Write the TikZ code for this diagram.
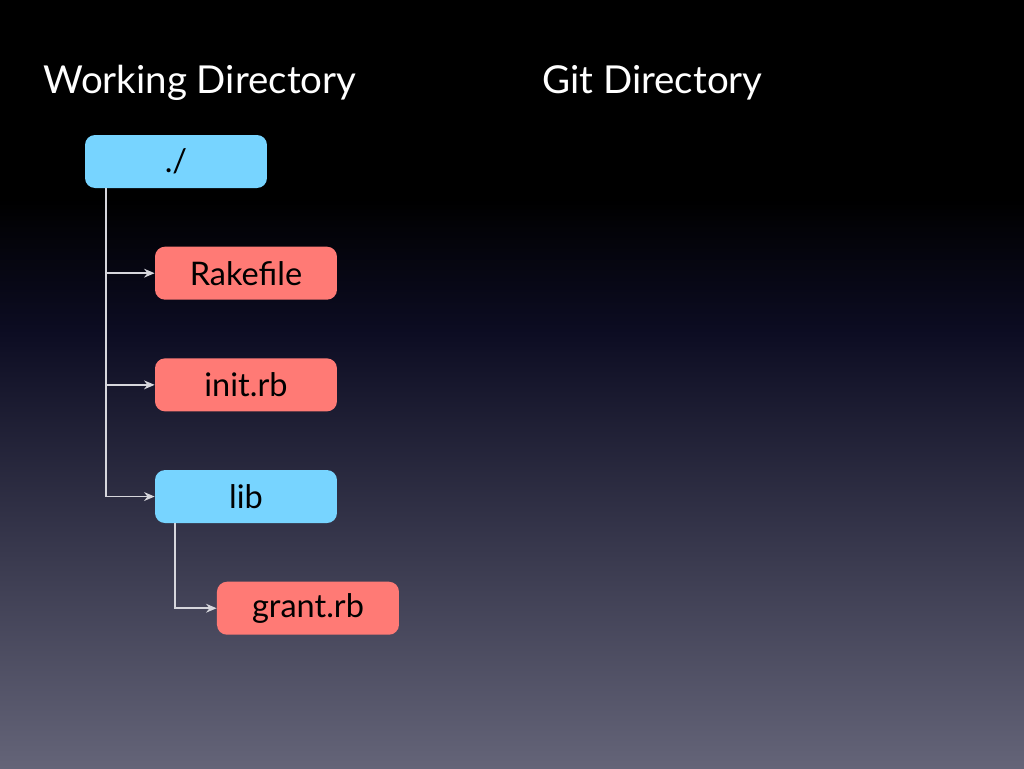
\documentclass[tikz,border=0pt]{standalone}
\usepackage{fontspec}
\setmainfont{Lato}
\usepackage{tikz}
\usetikzlibrary{arrows.meta,calc,positioning}

\definecolor{dirblue}{RGB}{119,212,255}
\definecolor{filered}{RGB}{255,122,117}
\definecolor{linegray}{RGB}{214,214,220}
\definecolor{bgmid}{RGB}{12,12,34}
\definecolor{bglow}{RGB}{100,100,120}

\begin{document}
\begin{tikzpicture}[
  x=0.02cm, y=-0.02cm,
  node distance=1.16cm and 1.16cm,
  box/.style={rounded corners=0.2cm, minimum width=3.64cm, minimum height=1.06cm,
    inner sep=0pt, text=black, font=\fontsize{18.5}{20}\selectfont},
  dirbox/.style={box, fill=dirblue},
  filebox/.style={box, fill=filered},
  title/.style={text=white, inner sep=0pt, anchor=base west, font=\fontsize{21.9}{24}\selectfont},
  arr/.style={-{Stealth[length=6pt,width=5pt]}, draw=linegray, line width=1pt}
]
% slide background
\fill[black] (0,0) rectangle (1024,200);
\shade[top color=black, bottom color=bgmid] (0,199) rectangle (1024,330);
\shade[top color=bgmid, bottom color=bglow] (0,329) rectangle (1024,768);
\useasboundingbox (0,0) rectangle (1024,768);

\node[title] (work) at (43,93) {Working Directory};
\node[title] (git) at (542,93) {Git Directory};

\node[dirbox] (root) at (176,161.5) {./};
\node[filebox, below=of root.south west, anchor=north west, xshift=1.4cm] (rake) {Rakefile};
\node[filebox, below=of rake] (init) {init.rb};
\node[dirbox, below=of init] (lib) {lib};
\node[filebox, below=of lib.south west, anchor=north west, xshift=1.24cm] (grant) {grant.rb};

\foreach \n in {rake,init,lib}
  \draw[arr] ($(root.south west)+(21,0)$) |- (\n.west);
\draw[arr] ($(lib.south west)+(20,0)$) |- (grant.west);
\end{tikzpicture}
\end{document}
